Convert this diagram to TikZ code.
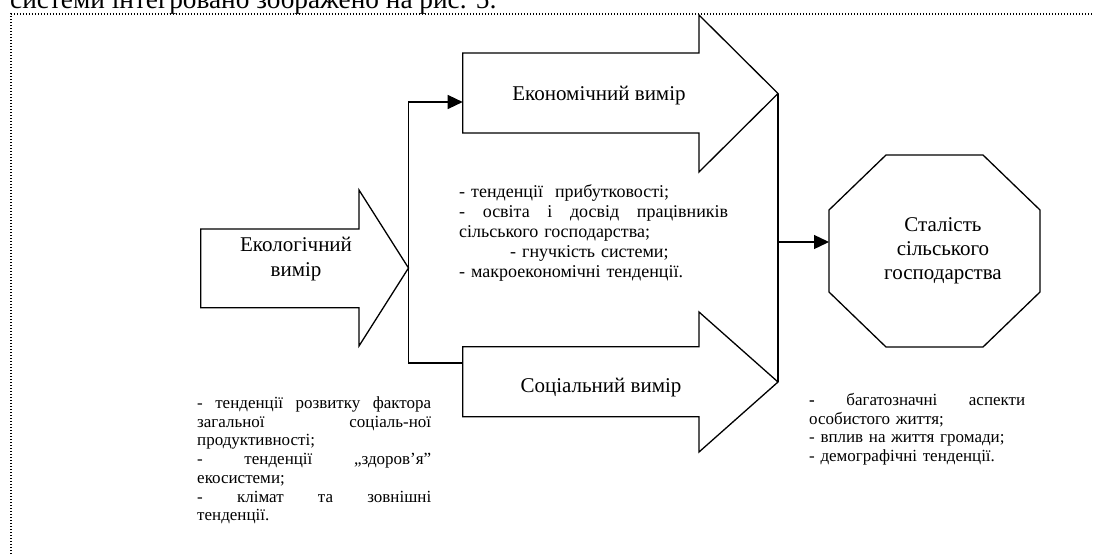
\documentclass[tikz,border=0pt]{standalone}
\usepackage{fontspec}
\setmainfont{Liberation Serif}
\usetikzlibrary{arrows.meta}
\newcommand{\jline}[2]{\makebox[#1][l]{#2}}
\begin{document}
\begin{tikzpicture}[x=1pt,y=-1pt,
  shapeline/.style={draw=black, line width=1.3pt, line join=miter, fill=white},
  conn/.style={draw=black, line width=1.3pt},
  arr/.style={conn, -{Triangle[length=15pt,width=14pt]}},
  lab/.style={font=\fontsize{21}{25}\selectfont, align=center, inner sep=0pt},
  listtext/.style={font=\fontsize{17}{18.7}\selectfont, inner sep=0pt, anchor=base west, align=left},
  frame/.style={draw=black, line width=1.1pt, dash pattern=on 1.1pt off 1.9pt},
]
\useasboundingbox (0,0) rectangle (1094,554);
\clip (0,0) rectangle (1094,554);

% intro line (cut off at the top)
\node[anchor=base west, inner sep=0pt, font=\fontsize{27.3}{30}\selectfont] (intro) at (10,8.5) {системи інтегровано зображено на рис. 5:};

% dotted frame
\draw[frame] (11,554) -- (11,14) -- (1094,14);

% ecological arrow
\draw[shapeline] (200.7,229) -- (359,229) -- (359,190) -- (408.5,268) -- (359,346) -- (359,307.7) -- (200.7,307.7) -- cycle;
\coordinate (ecoTip) at (408.5,268);
\node[lab] (eco) at (296,259.5) {Екологічний\\вимір};

% economic arrow
\draw[shapeline] (462.7,53) -- (699,53) -- (699,15) -- (778,93.5) -- (699,172) -- (699,133) -- (462.7,133) -- cycle;
\coordinate (econTip) at (778,93.5);
\coordinate (econIn) at (462.7,102);
\node[lab] (econ) at (599,96) {Економічний вимір};

% social arrow
\draw[shapeline] (462.7,346.7) -- (699,346.7) -- (699,312) -- (778,382) -- (699,452) -- (699,416.7) -- (462.7,416.7) -- cycle;
\coordinate (socTip) at (778,382);
\coordinate (socIn) at (462.7,363);
\node[lab] (soc) at (601,388) {Соціальний вимір};

% goal octagon
\draw[shapeline] (886,155) -- (983,155) -- (1040,210) -- (1040,292) -- (983,347) -- (886,347) -- (829,292) -- (829,210) -- cycle;
\coordinate (goalIn) at (829,242);
\node[lab, font=\fontsize{21}{24}\selectfont] (goal) at (943,251) {Сталість\\сільського\\господарства};

% connectors
\draw[conn] (socIn) -| (ecoTip);
\draw[arr] (ecoTip) |- (econIn);
\draw[conn] (econTip) -- (socTip);
\draw[arr] (goalIn -| econTip) -- (goalIn);

% lists
\node[listtext, font=\fontsize{18}{20}\selectfont, text width=269pt] (econList) at (459,197) {%
- тенденції\ \ прибутковості;\\
\jline{269pt}{-\hfill освіта\hfill і\hfill досвід\hfill працівників}\\
сільського господарства;\\
\hspace*{51pt}- гнучкість системи;\\
- макроекономічні тенденції.};

\node[listtext, text width=234pt] (ecoList) at (197,408.5) {%
\jline{234pt}{-\hfill тенденції\hfill розвитку\hfill фактора}\\
\jline{234pt}{загальної\hfill соціаль-ної}\\
продуктивності;\\
\jline{234pt}{-\hfill тенденції\hfill „здоров’я”}\\
екосистеми;\\
\jline{234pt}{-\hfill клімат\hfill та\hfill зовнішні}\\
тенденції.};

\node[listtext, text width=216pt] (socList) at (809,405.5) {%
\jline{216pt}{\textbf{-}\hfill багатозначні\hfill аспекти}\\
особистого життя;\\
- вплив на життя громади;\\
- демографічні тенденції.};
\end{tikzpicture}
\end{document}
